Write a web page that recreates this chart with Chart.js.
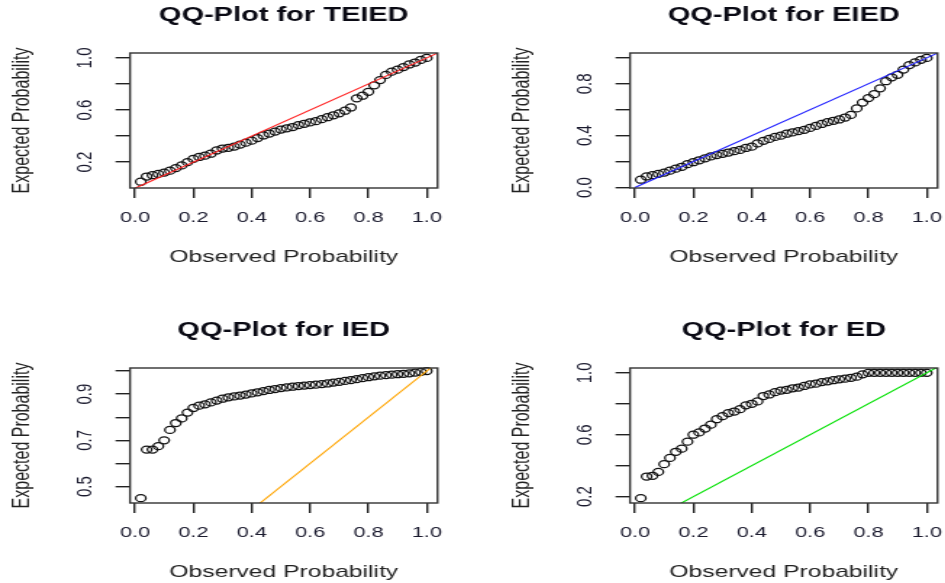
<!DOCTYPE html>
<html>
<head>
<meta charset="utf-8">
<title>QQ-Plots</title>
<script src="https://cdn.jsdelivr.net/npm/chart.js@4.4.1/dist/chart.umd.min.js"></script>
<style>
    html, body { margin: 0; padding: 0; background: #fff; }
    #page  { position: relative; width: 945px; height: 583px; overflow: hidden; background: #fff; }
    /* the original R output was stretched sideways, so each panel is too */
    .panel { position: absolute; transform: scaleX(1.45); transform-origin: 0 0; }
</style>
</head>
<body>
<div id="page">
    <div class="panel" style="left:0;top:0"><canvas id="qq-teied" width="307" height="268"></canvas></div>
    <div class="panel" style="left:500px;top:0"><canvas id="qq-eied" width="307" height="268"></canvas></div>
    <div class="panel" style="left:0;top:315px"><canvas id="qq-ied" width="307" height="268"></canvas></div>
    <div class="panel" style="left:500px;top:315px"><canvas id="qq-ed" width="307" height="268"></canvas></div>
</div>
<script>
// ── Data ────────────────────────────────────────────────────────────────
const OBS_PROB = [0.02,0.04,0.06,0.08,0.10,0.12,0.14,0.16,0.18,0.20,
                  0.22,0.24,0.26,0.28,0.30,0.32,0.34,0.36,0.38,0.40,
                  0.42,0.44,0.46,0.48,0.50,0.52,0.54,0.56,0.58,0.60,
                  0.62,0.64,0.66,0.68,0.70,0.72,0.74,0.76,0.78,0.80,
                  0.82,0.84,0.86,0.88,0.90,0.92,0.94,0.96,0.98,1.00];

const TEIED_EXP = [0.05,0.09,0.10,0.11,0.12,0.135,0.155,0.175,0.20,0.225,
                   0.24,0.25,0.265,0.29,0.305,0.31,0.32,0.335,0.35,0.365,
                   0.385,0.405,0.42,0.435,0.45,0.46,0.47,0.485,0.495,0.505,
                   0.515,0.53,0.545,0.56,0.575,0.595,0.62,0.69,0.71,0.74,
                   0.79,0.83,0.87,0.895,0.91,0.93,0.95,0.965,0.985,1.00];

const EIED_EXP  = [0.06,0.085,0.095,0.105,0.115,0.13,0.145,0.16,0.18,0.195,
                   0.21,0.225,0.24,0.25,0.26,0.27,0.28,0.29,0.305,0.315,
                   0.34,0.36,0.375,0.39,0.40,0.415,0.425,0.435,0.445,0.46,
                   0.475,0.49,0.505,0.515,0.525,0.54,0.56,0.61,0.655,0.69,
                   0.72,0.765,0.82,0.85,0.87,0.91,0.945,0.965,0.985,1.00];

const IED_EXP   = [0.45,0.66,0.66,0.675,0.70,0.745,0.775,0.795,0.82,0.84,
                   0.85,0.856,0.864,0.872,0.88,0.886,0.89,0.894,0.898,0.903,
                   0.908,0.913,0.918,0.922,0.926,0.929,0.932,0.935,0.937,0.939,
                   0.941,0.943,0.946,0.95,0.953,0.957,0.961,0.965,0.969,0.973,
                   0.977,0.98,0.982,0.984,0.986,0.988,0.99,0.993,0.996,1.00];

const ED_EXP    = [0.19,0.33,0.335,0.36,0.41,0.45,0.49,0.51,0.555,0.60,
                   0.615,0.64,0.665,0.70,0.72,0.74,0.75,0.765,0.79,0.80,
                   0.815,0.85,0.86,0.875,0.885,0.89,0.90,0.905,0.915,0.925,
                   0.93,0.94,0.945,0.952,0.958,0.962,0.968,0.975,0.99,1.00,
                   1.00,1.00,1.00,1.00,1.00,1.00,1.00,1.00,1.00,1.00];

// y = x reference line (clipped to the plot box)
const REF_LINE = [0, 1.1];

// ── Ticks ───────────────────────────────────────────────────────────────
const X_TICKS  = [0, 0.2, 0.4, 0.6, 0.8, 1.0];
const X_LABELS = ["0.0", "0.2", "0.4", "0.6", "0.8", "1.0"];

const Y_TICKS_TEIED  = [0.2, 0.4, 0.6, 0.8, 1.0];
const Y_LABELS_TEIED = ["0.2", "", "0.6", "", "1.0"];
const Y_TICKS_EIED   = [0, 0.2, 0.4, 0.6, 0.8, 1.0];
const Y_LABELS_EIED  = ["0.0", "", "0.4", "", "0.8", ""];
const Y_TICKS_IED    = [0.5, 0.6, 0.7, 0.8, 0.9, 1.0];
const Y_LABELS_IED   = ["0.5", "", "0.7", "", "0.9", ""];
const Y_TICKS_ED     = [0.2, 0.4, 0.6, 0.8, 1.0];
const Y_LABELS_ED    = ["0.2", "", "0.6", "", "1.0"];

const FONT = "'Liberation Sans', Arial, Helvetica, sans-serif";

// draws the full R-style box round the plot region
const boxPlugin = {
    id: "rbox",
    afterDraw(chart) {
        const a = chart.chartArea, c = chart.ctx;
        c.save();
        c.strokeStyle = "#333";
        c.lineWidth = 1.4;
        c.strokeRect(a.left, a.top, a.right - a.left, a.bottom - a.top);
        c.restore();
    },
};

function qqChart(id, title, yVals, lineColor, yRange, yTicks, yLabels) {
    return new Chart(document.getElementById(id), {
        type: "scatter",
        data: {
            datasets: [
                { type: "line", data: REF_LINE.map(v => ({ x: v, y: v })),
                  borderColor: lineColor, borderWidth: 1.1, pointRadius: 0, order: 0 },
                { data: OBS_PROB.map((x, i) => ({ x, y: yVals[i] })),
                  pointStyle: "circle", pointRadius: 3.5, borderWidth: 1.25,
                  borderColor: "#111", backgroundColor: "rgba(0,0,0,0)", clip: false, order: 1 },
            ],
        },
        options: {
            responsive: false, animation: false, events: [],
            layout: { padding: { left: 0, right: 4.24, top: 0, bottom: 0 } },
            plugins: {
                legend: { display: false },
                tooltip: { enabled: false },
                title: { display: true, text: title, fullSize: false, color: "#0a0a14",
                         font: { family: FONT, size: 20, weight: "bold" },
                         padding: { top: 3, bottom: 26 } },
            },
            scales: {
                x: {
                    type: "linear", position: "bottom", min: -0.017, max: 1.037,
                    afterBuildTicks: s => { s.ticks = X_TICKS.map(v => ({ value: v })); },
                    afterFit: s => { s.height = 80; s.paddingLeft = 0; s.paddingRight = 0; },
                    ticks: { autoSkip: false, padding: 11, color: "#1a1a2e",
                             font: { family: FONT, size: 15 },
                             callback: (v, i) => X_LABELS[i] },
                    grid: { drawOnChartArea: false, tickLength: 10, color: "#222", lineWidth: 1.4 },
                    border: { display: false },
                    title: { display: true, text: "Observed Probability", color: "#222",
                             font: { family: FONT, size: 17 }, padding: { top: 0, bottom: 0 } },
                },
                y: {
                    type: "linear", position: "left", min: yRange[0], max: yRange[1],
                    afterBuildTicks: s => { s.ticks = yTicks.map(v => ({ value: v })); },
                    afterFit: s => { s.width = 89.66; s.paddingTop = 0; s.paddingBottom = 0; },
                    ticks: { autoSkip: false, padding: 10, minRotation: 90, maxRotation: 90,
                             crossAlign: "center", color: "#1a1a2e",
                             font: { family: FONT, size: 15 },
                             callback: (v, i) => yLabels[i] },
                    grid: { drawOnChartArea: false, tickLength: 10, color: "#222", lineWidth: 1.4 },
                    border: { display: false },
                    title: { display: true, text: "Expected Probability", color: "#222",
                             font: { family: FONT, size: 16 }, padding: { top: 6.3, bottom: 0 } },
                },
            },
        },
        plugins: [boxPlugin],
    });
}

qqChart("qq-teied", "QQ-Plot for TEIED", TEIED_EXP, "#ff2020", [0.002, 1.038], Y_TICKS_TEIED, Y_LABELS_TEIED);
qqChart("qq-eied",  "QQ-Plot for EIED",  EIED_EXP,  "#2020ff", [-0.004, 1.038], Y_TICKS_EIED, Y_LABELS_EIED);
qqChart("qq-ied",   "QQ-Plot for IED",   IED_EXP,   "#ffa500", [0.429, 1.013], Y_TICKS_IED, Y_LABELS_IED);
qqChart("qq-ed",    "QQ-Plot for ED",    ED_EXP,    "#00e000", [0.159, 1.031], Y_TICKS_ED, Y_LABELS_ED);
</script>
</body>
</html>
